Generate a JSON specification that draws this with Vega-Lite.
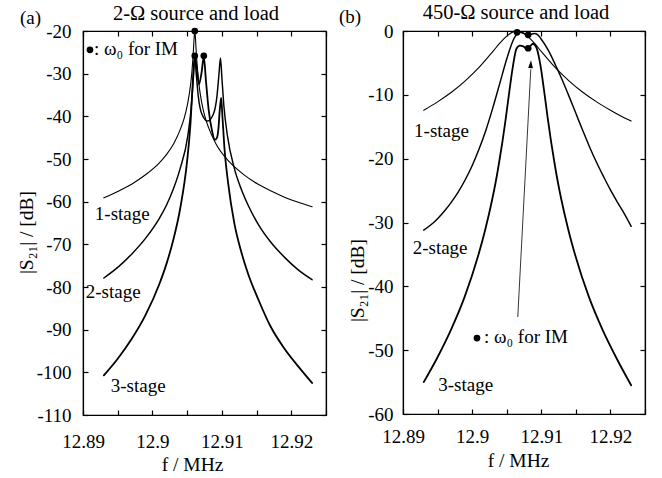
{
  "$schema": "https://vega.github.io/schema/vega-lite/v6.json",
  "padding": {"left": 15, "top": 2, "right": 2, "bottom": 2},
  "spacing": 10,
  "config": {
    "view": {"stroke": "black", "strokeWidth": 1.2},
    "font": "Liberation Serif",
    "axis": {"labelFont": "Liberation Serif", "titleFont": "Liberation Serif", "labelFontSize": 19, "titleFontSize": 19.5, "titleFontWeight": "normal", "labelColor": "black", "titleColor": "black", "domainColor": "black", "tickColor": "black", "grid": false, "tickSize": -5, "labelFlush": false, "labelOverlap": false, "domainWidth": 1.2, "tickWidth": 1.2},
    "text": {"font": "Liberation Serif", "fontSize": 19, "color": "black"}
  },
  "hconcat": [
    {
      "width": 243, "height": 384,
      "resolve": {"axis": {"x": "independent", "y": "independent"}},
      "layer": [
        {
          "data": {"values": [
            {"s":"1-stage","f":12.893,"v":-59.1},{"s":"1-stage","f":12.895,"v":-57.6},{"s":"1-stage","f":12.897,"v":-55.9},{"s":"1-stage","f":12.899,"v":-53.7},{"s":"1-stage","f":12.901,"v":-50.9},{"s":"1-stage","f":12.9021,"v":-48.8},{"s":"1-stage","f":12.9031,"v":-46.3},{"s":"1-stage","f":12.9041,"v":-42.7},{"s":"1-stage","f":12.9046,"v":-40.3},{"s":"1-stage","f":12.9051,"v":-36.8},{"s":"1-stage","f":12.9055,"v":-32.5},{"s":"1-stage","f":12.9057,"v":-29.3},{"s":"1-stage","f":12.9059,"v":-24.6},{"s":"1-stage","f":12.906,"v":-21.7},{"s":"1-stage","f":12.9061,"v":-20.0},{"s":"1-stage","f":12.9062,"v":-21.7},{"s":"1-stage","f":12.9063,"v":-24.6},{"s":"1-stage","f":12.9065,"v":-29.3},{"s":"1-stage","f":12.9067,"v":-32.5},{"s":"1-stage","f":12.9071,"v":-36.8},{"s":"1-stage","f":12.9076,"v":-40.3},{"s":"1-stage","f":12.9081,"v":-42.7},{"s":"1-stage","f":12.9091,"v":-46.3},{"s":"1-stage","f":12.9111,"v":-50.7},{"s":"1-stage","f":12.9131,"v":-53.6},{"s":"1-stage","f":12.9151,"v":-55.8},{"s":"1-stage","f":12.9171,"v":-57.5},{"s":"1-stage","f":12.9191,"v":-59.0},{"s":"1-stage","f":12.9211,"v":-60.2},{"s":"1-stage","f":12.923,"v":-61.2},
            {"s":"2-stage","f":12.893,"v":-77.9},{"s":"2-stage","f":12.895,"v":-75.4},{"s":"2-stage","f":12.897,"v":-72.3},{"s":"2-stage","f":12.899,"v":-68.6},{"s":"2-stage","f":12.901,"v":-63.9},{"s":"2-stage","f":12.902,"v":-60.9},{"s":"2-stage","f":12.903,"v":-57.1},{"s":"2-stage","f":12.904,"v":-52.2},{"s":"2-stage","f":12.9051,"v":-44.5},{"s":"2-stage","f":12.9056,"v":-37.7},{"s":"2-stage","f":12.9059,"v":-30.8},{"s":"2-stage","f":12.9061,"v":-26.0},{"s":"2-stage","f":12.9063,"v":-29.8},{"s":"2-stage","f":12.9066,"v":-35.2},{"s":"2-stage","f":12.9071,"v":-39.4},{"s":"2-stage","f":12.90795,"v":-41.1},{"s":"2-stage","f":12.9088,"v":-39.4},{"s":"2-stage","f":12.9093,"v":-35.2},{"s":"2-stage","f":12.9096,"v":-29.8},{"s":"2-stage","f":12.9098,"v":-26.3},{"s":"2-stage","f":12.91,"v":-30.8},{"s":"2-stage","f":12.9103,"v":-37.7},{"s":"2-stage","f":12.9108,"v":-44.5},{"s":"2-stage","f":12.9118,"v":-52.2},{"s":"2-stage","f":12.9128,"v":-57.1},{"s":"2-stage","f":12.9138,"v":-60.9},{"s":"2-stage","f":12.9152,"v":-65.2},{"s":"2-stage","f":12.917,"v":-69.4},{"s":"2-stage","f":12.919,"v":-73.0},{"s":"2-stage","f":12.921,"v":-76.0},{"s":"2-stage","f":12.923,"v":-78.3},
            {"s":"3-stage","f":12.893,"v":-100.7},{"s":"3-stage","f":12.895,"v":-96.8},{"s":"3-stage","f":12.897,"v":-92.2},{"s":"3-stage","f":12.899,"v":-86.6},{"s":"3-stage","f":12.901,"v":-79.3},{"s":"3-stage","f":12.902,"v":-74.7},{"s":"3-stage","f":12.903,"v":-69.0},{"s":"3-stage","f":12.904,"v":-61.6},{"s":"3-stage","f":12.905,"v":-50.4},{"s":"3-stage","f":12.9055,"v":-41.2},{"s":"3-stage","f":12.9058,"v":-32.3},{"s":"3-stage","f":12.9061,"v":-26.0},{"s":"3-stage","f":12.9064,"v":-28.8},{"s":"3-stage","f":12.9067,"v":-32.5},{"s":"3-stage","f":12.9071,"v":-29.5},{"s":"3-stage","f":12.9074,"v":-26.0},{"s":"3-stage","f":12.9077,"v":-31.5},{"s":"3-stage","f":12.9081,"v":-38.5},{"s":"3-stage","f":12.9086,"v":-43.5},{"s":"3-stage","f":12.909,"v":-45.5},{"s":"3-stage","f":12.9093,"v":-45.0},{"s":"3-stage","f":12.9095,"v":-43.0},{"s":"3-stage","f":12.9097,"v":-38.5},{"s":"3-stage","f":12.9099,"v":-35.7},{"s":"3-stage","f":12.9101,"v":-40.5},{"s":"3-stage","f":12.9104,"v":-48.0},{"s":"3-stage","f":12.9109,"v":-55.6},{"s":"3-stage","f":12.9118,"v":-65.1},{"s":"3-stage","f":12.9128,"v":-71.8},{"s":"3-stage","f":12.9138,"v":-77.0},{"s":"3-stage","f":12.9153,"v":-83.1},{"s":"3-stage","f":12.917,"v":-89.2},{"s":"3-stage","f":12.919,"v":-94.4},{"s":"3-stage","f":12.921,"v":-98.6},{"s":"3-stage","f":12.923,"v":-102.5}
          ]},
          "mark": {"type": "line", "interpolate": "monotone", "color": "black", "strokeCap": "round", "strokeJoin": "round"},
          "encoding": {
            "x": {"field": "f", "type": "quantitative", "scale": {"domain": [12.89, 12.925], "nice": false, "zero": false},
                  "axis": {"orient": "bottom", "values": [12.89, 12.895, 12.9, 12.905, 12.91, 12.915, 12.92, 12.925], "format": "~g", "labelExpr": "indexof(['12.89','12.9','12.91','12.92'], datum.label) >= 0 ? datum.label : ''", "labelPadding": 22, "title": "f / MHz", "titleX": 109, "titleY": 55, "titleBaseline": "alphabetic"}},
            "y": {"field": "v", "type": "quantitative", "scale": {"domain": [-110, -20], "nice": false, "zero": false},
                  "axis": {"orient": "left", "values": [-110, -100, -90, -80, -70, -60, -50, -40, -30, -20], "labelExpr": "toString(datum.value)", "labelPadding": 17, "title": "|S₂₁| / [dB]", "titleX": -51, "titleY": 201, "titleBaseline": "alphabetic"}},
            "detail": {"field": "s"},
            "strokeWidth": {"field": "s", "type": "nominal", "scale": {"domain": ["1-stage", "2-stage", "3-stage"], "range": [1.1, 1.8, 3.2]}, "legend": null}
          }
        },
        {
          "data": {"values": [{"f": 12.9061, "v": -20.0}, {"f": 12.9061, "v": -25.8}, {"f": 12.9074, "v": -25.8}, {"f": 12.891, "v": -24.4}]},
          "mark": {"type": "point", "filled": true, "color": "black", "size": 45, "opacity": 1},
          "encoding": {
            "x": {"field": "f", "type": "quantitative", "axis": {"orient": "top", "values": [12.89, 12.895, 12.9, 12.905, 12.91, 12.915, 12.92, 12.925], "labels": false, "title": null}},
            "y": {"field": "v", "type": "quantitative", "axis": {"orient": "right", "values": [-110, -100, -90, -80, -70, -60, -50, -40, -30, -20], "labels": false, "title": null}}
          }
        },
        {
          "data": {"values": [
            {"f": 12.8917, "v": -64.3, "t": "1-stage"},
            {"f": 12.8904, "v": -82.6, "t": "2-stage"},
            {"f": 12.894, "v": -104.6, "t": "3-stage"},
            {"f": 12.89158, "v": -25.6, "t": ": ω₀ for IM"},
            {"f": 12.88093, "v": -18.4, "t": "(a)"}
          ]},
          "mark": {"type": "text", "align": "left", "baseline": "alphabetic"},
          "encoding": {
            "x": {"field": "f", "type": "quantitative", "axis": null},
            "y": {"field": "v", "type": "quantitative", "axis": null},
            "text": {"field": "t"}
          }
        },
        {
          "data": {"values": [{"f": 12.90627, "v": -17.4, "t": "2-Ω source and load"}]},
          "mark": {"type": "text", "align": "center", "baseline": "alphabetic", "fontSize": 20.5},
          "encoding": {
            "x": {"field": "f", "type": "quantitative", "axis": null},
            "y": {"field": "v", "type": "quantitative", "axis": null},
            "text": {"field": "t"}
          }
        }
      ]
    },
    {
      "width": 242, "height": 383,
      "resolve": {"axis": {"x": "independent", "y": "independent"}},
      "layer": [
        {
          "data": {"values": [
            {"s":"1-stage","f":12.893,"v":-12.4},{"s":"1-stage","f":12.895,"v":-11.1},{"s":"1-stage","f":12.897,"v":-9.6},{"s":"1-stage","f":12.899,"v":-7.8},{"s":"1-stage","f":12.901,"v":-5.7},{"s":"1-stage","f":12.903,"v":-3.2},{"s":"1-stage","f":12.904,"v":-1.9},{"s":"1-stage","f":12.905,"v":-0.8},{"s":"1-stage","f":12.906,"v":-0.1},{"s":"1-stage","f":12.9065,"v":0.0},{"s":"1-stage","f":12.907,"v":-0.1},{"s":"1-stage","f":12.908,"v":-0.8},{"s":"1-stage","f":12.909,"v":-1.9},{"s":"1-stage","f":12.91,"v":-3.2},{"s":"1-stage","f":12.912,"v":-5.7},{"s":"1-stage","f":12.914,"v":-7.8},{"s":"1-stage","f":12.916,"v":-9.6},{"s":"1-stage","f":12.918,"v":-11.1},{"s":"1-stage","f":12.92,"v":-12.4},{"s":"1-stage","f":12.9215,"v":-13.3},{"s":"1-stage","f":12.923,"v":-14.1},
            {"s":"2-stage","f":12.893,"v":-31.2},{"s":"2-stage","f":12.894,"v":-30.4},{"s":"2-stage","f":12.895,"v":-29.4},{"s":"2-stage","f":12.896,"v":-28.2},{"s":"2-stage","f":12.897,"v":-26.8},{"s":"2-stage","f":12.898,"v":-25.2},{"s":"2-stage","f":12.899,"v":-23.3},{"s":"2-stage","f":12.9,"v":-21.1},{"s":"2-stage","f":12.901,"v":-18.5},{"s":"2-stage","f":12.902,"v":-15.5},{"s":"2-stage","f":12.903,"v":-12.0},{"s":"2-stage","f":12.904,"v":-8.2},{"s":"2-stage","f":12.905,"v":-4.4},{"s":"2-stage","f":12.9055,"v":-2.7},{"s":"2-stage","f":12.906,"v":-1.3},{"s":"2-stage","f":12.9065,"v":-0.45},{"s":"2-stage","f":12.907,"v":-0.2},{"s":"2-stage","f":12.9075,"v":-0.4},{"s":"2-stage","f":12.908,"v":-0.6},{"s":"2-stage","f":12.9085,"v":-0.5},{"s":"2-stage","f":12.909,"v":-0.4},{"s":"2-stage","f":12.9095,"v":-0.6},{"s":"2-stage","f":12.91,"v":-1.3},{"s":"2-stage","f":12.911,"v":-3.0},{"s":"2-stage","f":12.912,"v":-5.2},{"s":"2-stage","f":12.913,"v":-7.6},{"s":"2-stage","f":12.914,"v":-10.2},{"s":"2-stage","f":12.915,"v":-12.9},{"s":"2-stage","f":12.916,"v":-15.6},{"s":"2-stage","f":12.917,"v":-18.2},{"s":"2-stage","f":12.918,"v":-20.6},{"s":"2-stage","f":12.919,"v":-22.8},{"s":"2-stage","f":12.92,"v":-24.9},{"s":"2-stage","f":12.921,"v":-26.8},{"s":"2-stage","f":12.922,"v":-28.6},{"s":"2-stage","f":12.923,"v":-30.6},
            {"s":"3-stage","f":12.893,"v":-55.0},{"s":"3-stage","f":12.8949,"v":-51.3},{"s":"3-stage","f":12.8969,"v":-46.9},{"s":"3-stage","f":12.8989,"v":-41.7},{"s":"3-stage","f":12.9009,"v":-35.1},{"s":"3-stage","f":12.9019,"v":-31.1},{"s":"3-stage","f":12.9029,"v":-26.4},{"s":"3-stage","f":12.9034,"v":-23.7},{"s":"3-stage","f":12.9039,"v":-20.6},{"s":"3-stage","f":12.9044,"v":-17.2},{"s":"3-stage","f":12.9049,"v":-13.4},{"s":"3-stage","f":12.9054,"v":-9.3},{"s":"3-stage","f":12.9059,"v":-5.5},{"s":"3-stage","f":12.9064,"v":-2.8},{"s":"3-stage","f":12.9069,"v":-2.3},{"s":"3-stage","f":12.9074,"v":-2.4},{"s":"3-stage","f":12.9079,"v":-2.8},{"s":"3-stage","f":12.9083,"v":-2.5},{"s":"3-stage","f":12.9088,"v":-2.0},{"s":"3-stage","f":12.9093,"v":-2.6},{"s":"3-stage","f":12.9099,"v":-5.5},{"s":"3-stage","f":12.9104,"v":-9.3},{"s":"3-stage","f":12.9109,"v":-13.4},{"s":"3-stage","f":12.9114,"v":-17.2},{"s":"3-stage","f":12.9119,"v":-20.6},{"s":"3-stage","f":12.9124,"v":-23.7},{"s":"3-stage","f":12.9129,"v":-26.4},{"s":"3-stage","f":12.9139,"v":-31.1},{"s":"3-stage","f":12.9149,"v":-35.1},{"s":"3-stage","f":12.9169,"v":-41.7},{"s":"3-stage","f":12.9189,"v":-46.9},{"s":"3-stage","f":12.9209,"v":-51.3},{"s":"3-stage","f":12.923,"v":-55.5}
          ]},
          "mark": {"type": "line", "interpolate": "monotone", "color": "black", "strokeCap": "round", "strokeJoin": "round"},
          "encoding": {
            "x": {"field": "f", "type": "quantitative", "scale": {"domain": [12.89, 12.925], "nice": false, "zero": false},
                  "axis": {"orient": "bottom", "values": [12.89, 12.895, 12.9, 12.905, 12.91, 12.915, 12.92, 12.925], "format": "~g", "labelExpr": "indexof(['12.89','12.9','12.91','12.92'], datum.label) >= 0 ? datum.label : ''", "labelPadding": 18, "title": "f / MHz", "titleX": 115, "titleY": 52, "titleBaseline": "alphabetic"}},
            "y": {"field": "v", "type": "quantitative", "scale": {"domain": [-60, 0], "nice": false, "zero": false},
                  "axis": {"orient": "left", "values": [-60, -50, -40, -30, -20, -10, 0], "labelExpr": "toString(datum.value)", "labelPadding": 15, "title": "|S₂₁| / [dB]", "titleX": -40, "titleY": 249, "titleBaseline": "alphabetic"}},
            "detail": {"field": "s"},
            "strokeWidth": {"field": "s", "type": "nominal", "scale": {"domain": ["1-stage", "2-stage", "3-stage"], "range": [1.1, 1.8, 3.2]}, "legend": null}
          }
        },
        {
          "data": {"values": [{"f": 12.9066, "v": -44.8}, {"f": 12.90848, "v": -6.0}]},
          "mark": {"type": "line", "color": "black", "strokeWidth": 0.8},
          "encoding": {
            "x": {"field": "f", "type": "quantitative", "axis": null},
            "y": {"field": "v", "type": "quantitative", "axis": null}
          }
        },
        {
          "data": {"values": [{"f": 12.90848, "v": -5.2}]},
          "mark": {"type": "point", "filled": true, "color": "black", "opacity": 1, "size": 64, "angle": 3, "shape": "M-0.6,1L0,-1L0.6,1Z"},
          "encoding": {
            "x": {"field": "f", "type": "quantitative", "axis": null},
            "y": {"field": "v", "type": "quantitative", "axis": null}
          }
        },
        {
          "data": {"values": [{"f": 12.9065, "v": -0.2}, {"f": 12.9081, "v": -0.6}, {"f": 12.9081, "v": -2.7}, {"f": 12.9007, "v": -48.1}]},
          "mark": {"type": "point", "filled": true, "color": "black", "size": 45, "opacity": 1},
          "encoding": {
            "x": {"field": "f", "type": "quantitative", "axis": {"orient": "top", "values": [12.89, 12.895, 12.9, 12.905, 12.91, 12.915, 12.92, 12.925], "labels": false, "title": null}},
            "y": {"field": "v", "type": "quantitative", "axis": {"orient": "right", "values": [-60, -50, -40, -30, -20, -10, 0], "labels": false, "title": null}}
          }
        },
        {
          "data": {"values": [
            {"f": 12.8916, "v": -16.6, "t": "1-stage"},
            {"f": 12.8914, "v": -34.9, "t": "2-stage"},
            {"f": 12.8951, "v": -56.4, "t": "3-stage"},
            {"f": 12.90171, "v": -48.8, "t": ": ω₀ for IM"},
            {"f": 12.88075, "v": 1.25, "t": "(b)"}
          ]},
          "mark": {"type": "text", "align": "left", "baseline": "alphabetic"},
          "encoding": {
            "x": {"field": "f", "type": "quantitative", "axis": null},
            "y": {"field": "v", "type": "quantitative", "axis": null},
            "text": {"field": "t"}
          }
        },
        {
          "data": {"values": [{"f": 12.90634, "v": 1.88, "t": "450-Ω source and load"}]},
          "mark": {"type": "text", "align": "center", "baseline": "alphabetic", "fontSize": 20.5},
          "encoding": {
            "x": {"field": "f", "type": "quantitative", "axis": null},
            "y": {"field": "v", "type": "quantitative", "axis": null},
            "text": {"field": "t"}
          }
        }
      ]
    }
  ]
}
